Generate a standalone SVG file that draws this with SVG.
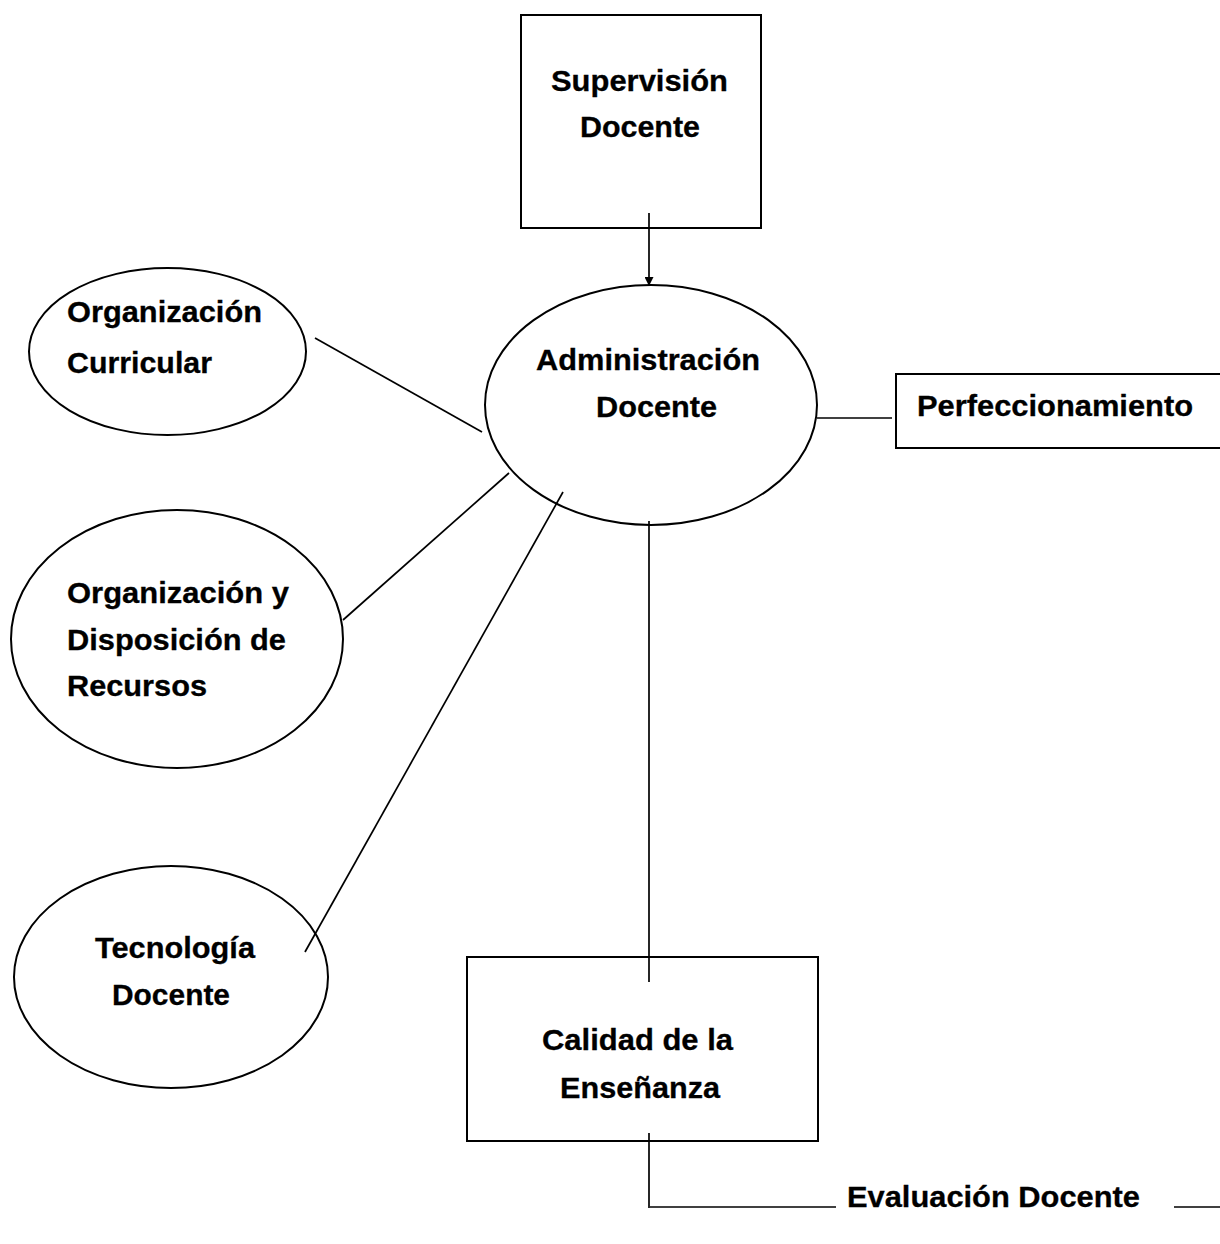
<svg xmlns="http://www.w3.org/2000/svg" width="1220" height="1244" viewBox="0 0 1220 1244">
<style>
.shape{fill:#fff;stroke:#000;stroke-width:2}
.conn{stroke:#000;stroke-width:1.7;fill:none}
.t{font-family:"Liberation Sans",Arial,sans-serif;font-weight:bold;font-size:29.5px;fill:#000;stroke:#000;stroke-width:0.3}
</style>
<defs>
<marker id="arr" viewBox="0 0 10 10" refX="10" refY="5" markerWidth="10" markerHeight="9" markerUnits="userSpaceOnUse" orient="auto">
<path d="M0,0 L10,5 L0,10 z" fill="#000"/>
</marker>
</defs>
<rect width="1220" height="1244" fill="#fff"/>
<g id="supervision">
<rect class="shape" x="521" y="15" width="240" height="213"/>
<text class="t" x="551" y="91" textLength="177" lengthAdjust="spacingAndGlyphs">Supervisión</text>
<text class="t" x="580" y="137" textLength="120" lengthAdjust="spacingAndGlyphs">Docente</text>
</g>
<g id="administracion">
<ellipse class="shape" cx="651" cy="405" rx="166" ry="120"/>
<text class="t" x="536" y="370" textLength="224" lengthAdjust="spacingAndGlyphs">Administración</text>
<text class="t" x="596" y="417" textLength="121" lengthAdjust="spacingAndGlyphs">Docente</text>
</g>
<g id="org-curricular">
<ellipse class="shape" cx="167.5" cy="351.5" rx="138.5" ry="83.5"/>
<text class="t" x="67" y="322" textLength="195" lengthAdjust="spacingAndGlyphs">Organización</text>
<text class="t" x="67" y="373" textLength="145" lengthAdjust="spacingAndGlyphs">Curricular</text>
</g>
<g id="perfeccionamiento">
<rect class="shape" x="896" y="374" width="340" height="74"/>
<text class="t" x="917" y="416" textLength="276" lengthAdjust="spacingAndGlyphs">Perfeccionamiento</text>
</g>
<g id="org-recursos">
<ellipse class="shape" cx="177" cy="639" rx="166" ry="129"/>
<text class="t" x="67" y="603" textLength="222" lengthAdjust="spacingAndGlyphs">Organización y</text>
<text class="t" x="67" y="650" textLength="219" lengthAdjust="spacingAndGlyphs">Disposición de</text>
<text class="t" x="67" y="696" textLength="140" lengthAdjust="spacingAndGlyphs">Recursos</text>
</g>
<g id="tecnologia">
<ellipse class="shape" cx="171" cy="977" rx="157" ry="111"/>
<text class="t" x="95" y="958" textLength="160" lengthAdjust="spacingAndGlyphs">Tecnología</text>
<text class="t" x="112" y="1005" textLength="118" lengthAdjust="spacingAndGlyphs">Docente</text>
</g>
<g id="calidad">
<rect class="shape" x="467" y="957" width="351" height="184"/>
<text class="t" x="542" y="1050" textLength="191" lengthAdjust="spacingAndGlyphs">Calidad de la</text>
<text class="t" x="560" y="1098" textLength="160" lengthAdjust="spacingAndGlyphs">Enseñanza</text>
</g>
<g id="evaluacion">
<text class="t" x="847" y="1207" textLength="293" lengthAdjust="spacingAndGlyphs">Evaluación Docente</text>
</g>
<g id="connectors">
<line class="conn" x1="649" y1="213" x2="649" y2="286" marker-end="url(#arr)"/>
<line class="conn" x1="315" y1="338" x2="482" y2="432"/>
<line class="conn" x1="343" y1="620" x2="509" y2="473"/>
<line class="conn" x1="305" y1="952" x2="563" y2="492"/>
<line class="conn" x1="817" y1="418" x2="892" y2="418"/>
<line class="conn" x1="649" y1="521" x2="649" y2="982"/>
<line class="conn" x1="649" y1="1133" x2="649" y2="1208"/>
<line class="conn" x1="650" y1="1207" x2="836" y2="1207"/>
<line class="conn" x1="1174" y1="1207" x2="1220" y2="1207"/>
</g>
</svg>
